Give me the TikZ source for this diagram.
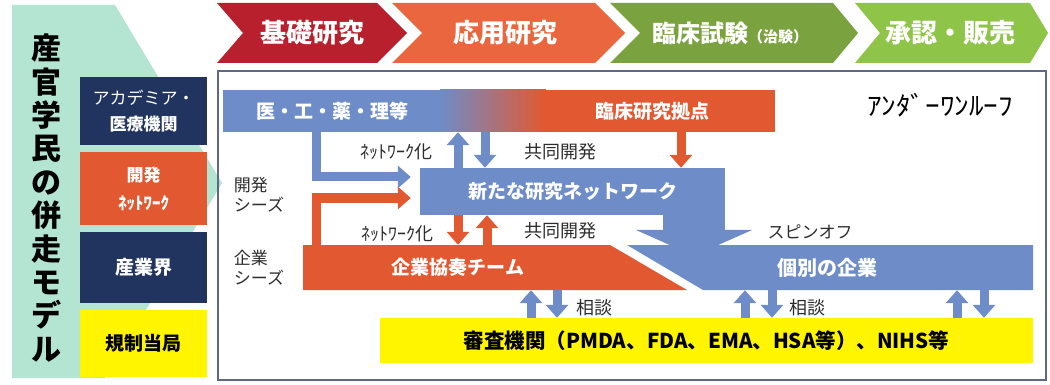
\documentclass[tikz,border=0pt]{standalone}
\usepackage{fontspec}
\setmainfont{Noto Sans CJK JP}
\usetikzlibrary{arrows.meta}
\definecolor{mint}{RGB}{180,229,211}
\definecolor{navy}{RGB}{33,52,95}
\definecolor{orng}{RGB}{226,88,48}
\definecolor{dred}{RGB}{184,32,46}
\definecolor{corng}{RGB}{234,102,62}
\definecolor{olive}{RGB}{122,162,62}
\definecolor{lgreen}{RGB}{142,196,72}
\definecolor{bblue}{RGB}{110,141,200}
\definecolor{ylw}{RGB}{255,245,0}
\definecolor{framec}{RGB}{95,105,135}
\definecolor{txt}{RGB}{45,45,45}
\newcommand\fsz[1]{\fontsize{#1}{#1}\selectfont}
\begin{document}
\begin{tikzpicture}[x=1pt,y=-1pt,
  lbl/.style={inner sep=0pt, text=txt},
  wt/.style={inner sep=0pt, text=white},
  lbox/.style={inner sep=0pt, minimum width=127pt, align=center},
  fatb/.style={draw=bblue, line width=9pt, -{Triangle[width=22pt,length=13pt]}},
  fato/.style={draw=orng, line width=9pt, -{Triangle[width=22pt,length=13pt]}},
]
\useasboundingbox (0,0) rectangle (1050,385);
\fill[white] (0,0) rectangle (1050,385);

% chevrons
\fill[dred] (217,3) -- (377,3) -- (407,33) -- (377,63) -- (217,63) -- (243,33) -- cycle;
\fill[corng] (392,3) -- (595,3) -- (625,33) -- (595,63) -- (392,63) -- (422,33) -- cycle;
\fill[olive] (610,3) -- (833,3) -- (858,33) -- (833,63) -- (610,63) -- (640,33) -- cycle;
\fill[lgreen] (855,3) -- (1030,3) -- (1048,33) -- (1030,63) -- (855,63) -- (880,33) -- cycle;
\node[wt, font=\bfseries\fsz{26}] (ch1) at (312,33) {基礎研究};
\node[wt, font=\bfseries\fsz{26}] (ch2) at (505,33) {応用研究};
\node[wt, font=\bfseries\fsz{24}] (ch3) at (730,33) {臨床試験{\fsz{15}（治験）}};
\node[wt, font=\bfseries\fsz{26}] (ch4) at (950,33) {承認・販売};

% left panel
\fill[mint] (12,5) -- (115,5) -- (222,183) -- (105,378) -- (12,378) -- cycle;
\node[inner sep=0pt, align=center, font=\bfseries\fontsize{30}{33.4}\selectfont] (title) at (46,198) {産\\官\\学\\民\\の\\併\\走\\モ\\デ\\ル};

\node[lbox, fill=navy, minimum height=68pt, text=white, font=\fontsize{17}{26}\selectfont] (acad) at (143.5,111) {アカデミア・\\\textbf{医療機関}};
\node[lbox, fill=orng, minimum height=73pt, text=white, font=\bfseries\fontsize{17}{28}\selectfont] (dnet) at (143.5,188.5) {開発\\ﾈｯﾄﾜｰｸ};
\node[lbox, fill=navy, minimum height=71pt, text=white, font=\bfseries\fsz{19}] (ind) at (143.5,267.5) {産業界};
\node[lbox, fill=ylw, minimum height=67pt, text=black, font=\bfseries\fsz{19}] (reg) at (143.5,343.5) {規制当局};

% frame
\draw[framec, line width=2pt] (218,71) rectangle (1046,380);

% top bar
\fill[bblue] (223,90) rectangle (441,132);
\shade[left color=bblue, right color=orng] (440,90) rectangle (546,132);
\fill[orng] (545,90) rectangle (775,132);
\node[inner sep=0pt, minimum width=552pt, minimum height=42pt] (bar) at (499,111) {};
\node[wt, font=\bfseries\fsz{19}] (med) at (332,111) {医・工・薬・理等};
\node[wt, font=\bfseries\fsz{19}] (clin) at (652,111) {臨床研究拠点};

\node[inner sep=0pt, text=black, font=\fsz{26}, xscale=1.12] (uor) at (940,105) {ｱﾝﾀﾞｰﾜﾝﾙｰﾌ};

% network
\node[fill=bblue, inner sep=0pt, minimum width=305pt, minimum height=47pt, text=white, font=\bfseries\fsz{19}] (net) at (572.5,191.5) {新たな研究ネットワーク};

% team and company bars
\fill[orng] (303,245) -- (610,245) -- (687,290) -- (303,290) -- cycle;
\node[wt, minimum height=45pt, font=\bfseries\fsz{19}] (team) at (458,267.5) {企業協奏チーム};
\fill[bblue] (627,245) -- (1033,245) -- (1033,290) -- (703,290) -- cycle;
\node[wt, minimum height=45pt, font=\bfseries\fsz{20}] (kob) at (827,267.5) {個別の企業};

% spin-off arrow
\coordinate (xsp) at (694,0);
\draw[draw=bblue, line width=62pt, -{Triangle[width=116pt,length=26pt]}, shorten >=-11pt, shorten <=-1pt] (net.south -| xsp) -- (kob.north -| xsp);

% review bar
\node[fill=ylw, inner sep=0pt, minimum width=653pt, minimum height=45pt, font=\bfseries\fsz{20.5}] (rev) at (706.5,340.5) {審査機関（PMDA、FDA、EMA、HSA等）、NIHS等};

% L arrows
\coordinate (xs) at (316,0);
\coordinate (yb) at (0,177);
\coordinate (yo) at (0,198);
\draw[fatb, shorten >=9pt] (bar.south -| xs) |- (net.west |- yb);
\draw[fato, shorten >=9pt] (team.north -| xs) |- (net.west |- yo);

% vertical arrows
\foreach \n/\x in {a/458,b/485,c/681,d/487,e/531,f/557,g/745,h/772,i/957,j/984}
  \coordinate (x\n) at (\x,0);
\draw[fatb] (net.north -| xa) -- (bar.south -| xa);
\draw[fatb] (bar.south -| xb) -- (net.north -| xb);
\draw[fato] (bar.south -| xc) -- (net.north -| xc);
\draw[fato] (net.south -| xa) -- (team.north -| xa);
\draw[fato] (team.north -| xd) -- (net.south -| xd);
\draw[fatb] (rev.north -| xe) -- (team.south -| xe);
\draw[fatb] (team.south -| xf) -- (rev.north -| xf);
\draw[fatb] (rev.north -| xg) -- (kob.south -| xg);
\draw[fatb] (kob.south -| xh) -- (rev.north -| xh);
\draw[fatb] (rev.north -| xi) -- (kob.south -| xi);
\draw[fatb] (kob.south -| xj) -- (rev.north -| xj);

% labels
\node[lbl, font=\fsz{18}] (nw1) at (396,152) {ﾈｯﾄﾜｰｸ化};
\node[lbl, font=\fsz{18}] (kd1) at (560,152) {共同開発};
\node[lbl, font=\fsz{18}] (nw2) at (397,234) {ﾈｯﾄﾜｰｸ化};
\node[lbl, font=\fsz{18}] (kd2) at (560,231) {共同開発};
\node[lbl, font=\fsz{17}] (spl) at (810,232) {スピンオフ};
\node[lbl, font=\fsz{18}] (sd1) at (594,308) {相談};
\node[lbl, font=\fsz{18}] (sd2) at (807,308) {相談};
\node[lbl, font=\fontsize{17}{20}\selectfont, align=left] (ds) at (259,195) {開発\\シーズ};
\node[lbl, font=\fontsize{17}{20}\selectfont, align=left] (cs) at (259,268) {企業\\シーズ};
\end{tikzpicture}
\end{document}
